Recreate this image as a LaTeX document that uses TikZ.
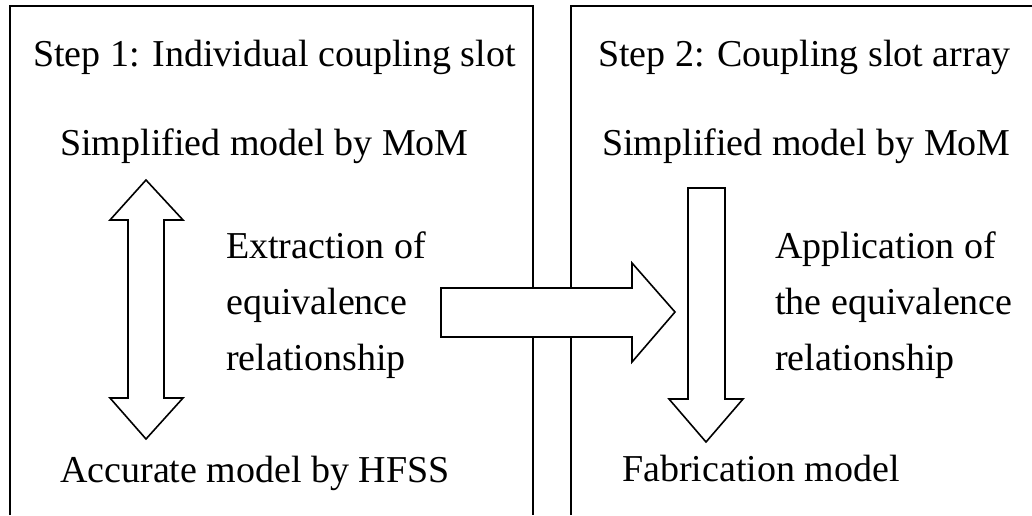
\documentclass[tikz,border=0pt]{standalone}
\usepackage{fontspec}
\setmainfont{Liberation Serif}

\begin{document}
\begin{tikzpicture}
		[x=1pt,y=-1pt,every node/.style={anchor=base west,inner sep=0pt,align=left,font=\fontsize{38}{56}\selectfont},
		frame/.style={line width=2pt},
		blockarrow/.style={draw,fill=white,line width=1.6pt,line join=miter}]
		\useasboundingbox (0,0) rectangle (1032,515);
		% the two open frames
		\draw[frame] (10,515) -- (10,6) -- (533,6) -- (533,515);
		\draw[frame] (571,515) -- (571,6) -- (1032,6);
		
		\node (step1) at (33,66) {Step 1: Individual coupling slot};
		\node (step2) at (598,66) {Step 2: Coupling slot array};
		\node (simple1) at (60,155) {Simplified model by MoM};
		\node (accurate) at (60,482) {Accurate model by HFSS};
		\node (simple2) at (602,155) {Simplified model by MoM};
		\node (fabric) at (622,481) {Fabrication model};
		% base of these two is their last line
		\node (extract) at (226,370) {Extraction of\\equivalence\\relationship};
		\node (apply) at (775,370) {Application of\\the equivalence\\relationship};
		
		% double arrow between the two models
		\draw[blockarrow] (146,180) -- (183,220) -- (164,220) -- (164,398) -- (183,398)
		-- (146,439) -- (110,398) -- (128,398) -- (128,220) -- (110,220) -- cycle;
		% arrow from step 1 to step 2
		\draw[blockarrow] (441,288) -- (632,288) -- (632,263) -- (675,312)
		-- (632,362) -- (632,337) -- (441,337) -- cycle;
		% down arrow
		\draw[blockarrow] (688,188) -- (725,188) -- (725,399) -- (743,399)
		-- (706,442) -- (669,399) -- (688,399) -- cycle;
\end{tikzpicture}
\end{document}
